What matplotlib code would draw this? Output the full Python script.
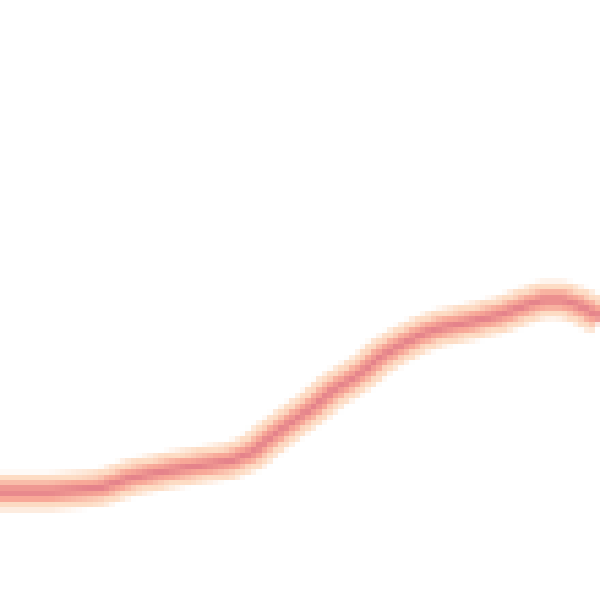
import numpy as np
from matplotlib import pyplot as plt

# line (x across, value up, both 0..600)
xs = [0, 50, 100, 130, 170, 210, 230, 253, 267, 290, 313, 333, 350, 365,
      380, 400, 420, 440, 470, 500, 527, 543, 563, 580, 600]
ys = [108, 108, 112, 122, 130, 136, 139, 148, 160, 177, 193, 210, 220, 230,
      243, 255, 265, 272, 278, 285, 295, 300, 300, 294, 283]

glow = '#fddcc4'
mid = '#f8a898'
core = '#e5838b'


def draw_small(n=110):
    # draw at low resolution so the blow-up gets the same blocky look
    fig = plt.figure(figsize=(n / 100, n / 100), dpi=100)
    ax = fig.add_axes([0, 0, 1, 1])
    ax.plot(xs, ys, color=glow, lw=4.8, solid_capstyle='butt')
    ax.plot(xs, ys, color=mid, lw=2.6, solid_capstyle='butt')
    ax.plot(xs, ys, color=core, lw=0.9, solid_capstyle='butt')
    ax.set_xlim(0, 600)
    ax.set_ylim(0, 600)
    ax.axis('off')
    fig.canvas.draw()
    img = np.asarray(fig.canvas.buffer_rgba())[..., :3].copy()
    plt.close(fig)
    return img


if __name__ == '__main__':
    small = draw_small()
    fig = plt.figure(figsize=(6, 6), dpi=100)
    ax = fig.add_axes([0, 0, 1, 1])
    ax.imshow(small, interpolation='nearest', aspect='auto')
    ax.axis('off')
    fig.savefig('out.png', dpi=100)
